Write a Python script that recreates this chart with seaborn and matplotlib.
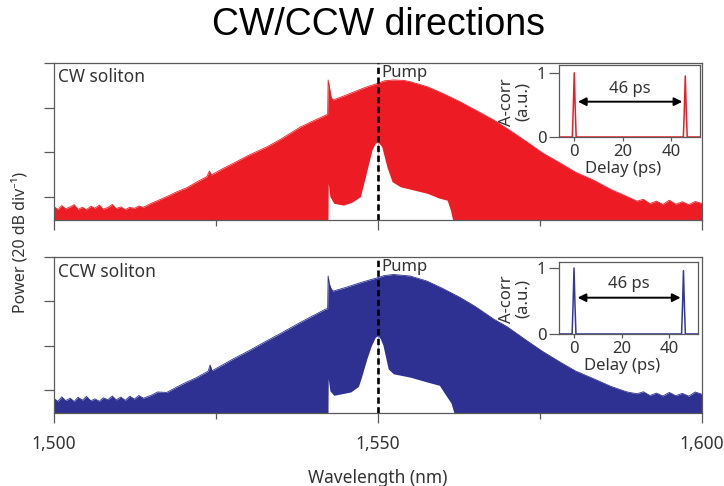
import matplotlib
matplotlib.use("Agg")
import matplotlib.pyplot as plt
import seaborn as sns

# ---------------- spectra (wavelength in nm, power in dB) ----------------
# CW soliton: peak envelope of the comb lines
cw_peak_wl = [1500.0, 1500.6, 1501.2, 1501.8, 1502.5, 1503.1, 1503.7, 1504.4, 1505.0, 1505.7,
              1506.3, 1507.0, 1507.6, 1508.3, 1509.0, 1509.6, 1510.3, 1511.0, 1511.7, 1512.4,
              1513.1, 1513.8, 1515.0, 1516.0, 1517.4, 1519.0, 1520.5, 1522.0, 1523.6, 1524.0,
              1524.3, 1526.0, 1527.7, 1530.0, 1532.9, 1535.0, 1538.0, 1540.0, 1541.9, 1542.25,
              1542.32, 1542.5, 1542.8, 1543.1, 1545.0, 1547.3, 1548.5, 1549.9, 1551.0, 1552.4,
              1554.0, 1555.0, 1557.6, 1560.0, 1562.7, 1565.0, 1567.9, 1570.0, 1573.0, 1575.5,
              1578.2, 1580.5, 1583.3, 1586.0, 1588.5, 1590.0, 1591.0, 1592.0, 1593.0, 1594.0,
              1595.0, 1596.0, 1597.0, 1598.0, 1599.0, 1600.0]
cw_peak_db = [-64.5, -65.8, -64.0, -65.5, -64.6, -63.6, -65.7, -64.8, -65.9, -64.3,
              -65.2, -63.8, -65.6, -64.9, -63.5, -65.4, -64.6, -65.8, -64.8, -65.3,
              -64.2, -64.8, -63.0, -61.8, -60.0, -57.8, -56.0, -53.5, -51.0, -48.5,
              -50.3, -47.5, -45.0, -41.5, -37.6, -34.2, -28.8, -26.0, -23.5, -23.0,
              -7.6, -10.5, -15.5, -16.6, -14.5, -11.8, -10.5, -9.2, -8.0, -7.6,
              -7.8, -8.4, -10.6, -13.6, -17.4, -21.0, -25.6, -29.5, -35.4, -40.5,
              -45.0, -49.0, -52.6, -56.8, -60.0, -62.0, -61.2, -63.2, -62.0, -63.5,
              -61.6, -63.4, -62.3, -63.6, -62.2, -63.0]
# CW soliton: background level between comb lines (raised around the pump)
cw_base_wl = [1500.0, 1542.3, 1542.34, 1542.6, 1543.2, 1544.7, 1546.0, 1547.3, 1548.0, 1548.5,
              1549.1, 1549.6, 1549.97, 1550.0, 1550.03, 1550.6, 1551.4, 1552.2, 1553.5, 1554.5,
              1557.6, 1559.5, 1560.7, 1561.2, 1561.6, 1600.0]
cw_base_db = [-71.0, -71.0, -54.0, -60.0, -63.0, -63.8, -62.5, -60.0, -52.0, -46.0,
              -39.0, -36.0, -35.4, -69.0, -35.4, -37.6, -46.6, -53.3, -55.6, -56.3,
              -58.5, -60.7, -61.6, -66.0, -71.0, -71.0]

# CCW soliton: peak envelope of the comb lines
ccw_peak_wl = [1500.0, 1500.6, 1501.2, 1501.8, 1502.5, 1503.1, 1503.7, 1504.4, 1505.0, 1505.7,
               1506.3, 1507.0, 1507.6, 1508.3, 1509.0, 1509.6, 1510.3, 1511.0, 1511.7, 1512.4,
               1513.1, 1513.8, 1515.0, 1516.0, 1517.4, 1519.0, 1520.5, 1522.0, 1523.8, 1524.1,
               1524.4, 1526.0, 1527.7, 1530.0, 1532.9, 1535.0, 1538.0, 1540.0, 1541.9, 1542.25,
               1542.32, 1542.5, 1542.8, 1543.1, 1545.0, 1547.3, 1549.9, 1551.0, 1552.4, 1555.0,
               1557.6, 1560.0, 1562.7, 1565.0, 1567.9, 1570.0, 1573.0, 1575.5, 1578.2, 1580.5,
               1583.3, 1586.0, 1588.5, 1590.0, 1591.0, 1592.0, 1593.0, 1594.0, 1595.0, 1596.0,
               1597.0, 1598.0, 1599.0, 1600.0]
ccw_peak_db = [-64.0, -65.2, -63.2, -64.9, -63.8, -65.3, -63.4, -64.7, -63.0, -65.0,
               -64.1, -65.2, -63.6, -64.5, -62.8, -64.6, -63.3, -64.8, -62.9, -64.2,
               -62.6, -63.8, -62.5, -61.0, -61.2, -58.7, -56.5, -54.5, -51.6, -48.8,
               -51.4, -48.8, -46.0, -42.5, -37.8, -34.5, -29.6, -26.5, -23.6, -23.3,
               -8.6, -12.0, -14.5, -15.4, -13.8, -11.6, -9.4, -8.4, -7.9, -8.6,
               -10.9, -14.2, -18.3, -22.3, -28.1, -31.6, -37.8, -42.8, -47.6, -51.5,
               -55.0, -58.5, -61.0, -61.8, -60.9, -62.6, -61.5, -62.8, -61.2, -62.7,
               -61.6, -62.9, -61.0, -62.0]
# CCW soliton: background level between comb lines
ccw_base_wl = [1500.0, 1542.3, 1542.34, 1542.6, 1543.2, 1545.8, 1547.0, 1547.5, 1548.3, 1549.0,
               1549.6, 1549.97, 1550.0, 1550.03, 1550.4, 1550.8, 1551.6, 1552.4, 1555.0, 1557.6,
               1559.5, 1560.5, 1561.3, 1561.8, 1600.0]
ccw_base_db = [-71.0, -71.0, -55.0, -60.5, -62.5, -61.0, -58.5, -54.0, -46.0, -40.0,
               -36.3, -35.6, -69.0, -35.6, -37.0, -40.0, -50.6, -52.8, -54.3, -56.5,
               -58.0, -62.5, -66.0, -71.0, -71.0]

# ---------------- autocorrelation traces (delay in ps) ----------------
acorr_delay = [-6.3, -0.8, -0.4, 0.0, 0.4, 0.8, 45.1, 45.5, 45.9, 46.3, 46.7, 52.0]
cw_acorr = [0.0, 0.0, 0.45, 1.0, 0.45, 0.0, 0.0, 0.42, 0.95, 0.42, 0.0, 0.0]
ccw_acorr = [0.0, 0.0, 0.45, 1.0, 0.45, 0.0, 0.0, 0.42, 0.96, 0.42, 0.0, 0.0]

pump_wl = 1550.0
spacing_ps = 46
panel_labels = ["CW soliton", "CCW soliton"]
x_ticks = [1500, 1550, 1600]
x_tick_labels = ["1,500", "1,550", "1,600"]
x_minor = [1525, 1575]
power_ticks = [-60, -40, -20, 0]

RED = "#ED1C24"
BLUE = "#2E3192"
TXT = "#333333"
SPINE = "#5a5a5a"

sns.set_theme(style="ticks")
plt.rcParams["font.family"] = ["Noto Sans", "DejaVu Sans"]
plt.rcParams["axes.edgecolor"] = SPINE
plt.rcParams["xtick.color"] = SPINE
plt.rcParams["ytick.color"] = SPINE
plt.rcParams["xtick.labelcolor"] = TXT
plt.rcParams["ytick.labelcolor"] = TXT

fig = plt.figure(figsize=(7.24, 4.86), dpi=100, facecolor="white")

main_rects = [[0.0746, 0.5473, 0.8946, 0.323], [0.0746, 0.1502, 0.8946, 0.321]]
inset_rects = [[0.7721, 0.7181, 0.1948, 0.148], [0.7721, 0.3128, 0.1920, 0.148]]
spectra = [
    (cw_peak_wl, cw_peak_db, cw_base_wl, cw_base_db, cw_acorr, RED, RED, -4.5, -6.1, 1.12),
    (ccw_peak_wl, ccw_peak_db, ccw_base_wl, ccw_base_db, ccw_acorr, BLUE, "#34389a", -4.3, -7.0, 1.09),
]

for i, (pk_wl, pk_db, bs_wl, bs_db, acorr, col, icol, pump_y, lab_y, ytop) in enumerate(spectra):
    ax = fig.add_axes(main_rects[i])
    ax.set_facecolor("white")
    ymin = -70.5
    # comb lines fill everything from the bottom up to the peak envelope
    ax.fill_between(pk_wl, pk_db, -71.0, color=col, lw=0, zorder=1)
    sns.lineplot(x=pk_wl, y=pk_db, ax=ax, color=col, lw=0.6, estimator=None,
                 sort=False, zorder=1.1)
    # below the background level nothing is recorded
    ax.fill_between(bs_wl, bs_db, -71.0, color="white", lw=0, zorder=1.2)
    ax.axvline(pump_wl, color="black", lw=1.9, ls=(0, (2.4, 1.3)), zorder=3)

    ax.set_xlim(1500, 1600)
    ax.set_ylim(ymin, 0)
    ax.set_xticks(x_ticks)
    ax.set_xticks(x_minor, minor=True)
    ax.set_yticks(power_ticks)
    ax.set_yticklabels([])
    if i == 1:
        ax.set_xticklabels(x_tick_labels, fontsize=12.5)
        ax.set_xlabel("Wavelength (nm)", fontsize=12.5, color=TXT, labelpad=11)
    else:
        ax.set_xticklabels([])
    ax.tick_params(axis="x", which="major", direction="out", length=7, width=0.9, pad=9)
    ax.tick_params(axis="x", which="minor", direction="out", length=4, width=0.9)
    ax.tick_params(axis="y", direction="out", length=7, width=0.9)
    for s in ax.spines.values():
        s.set_linewidth(0.9)
        s.set_color(SPINE)

    ax.text(1500.6, lab_y, panel_labels[i], fontsize=12.5, color=TXT, va="center", ha="left")
    ax.text(pump_wl + 0.55, pump_y, "Pump", fontsize=12, color=TXT, va="center", ha="left")

    # autocorrelation inset
    ai = fig.add_axes(inset_rects[i])
    ai.set_facecolor("white")
    ai.set_zorder(5)
    sns.lineplot(x=acorr_delay, y=acorr, ax=ai, color=icol, lw=1.1, estimator=None, sort=False)
    ai.set_xlim(-6.3, 52.0)
    ai.set_ylim(0, ytop)
    ai.set_xticks([0, 20, 40])
    ai.set_yticks([0, 1])
    ai.tick_params(axis="x", direction="out", length=3, width=0.9, pad=2, labelsize=12)
    ai.tick_params(axis="y", direction="out", length=7, width=0.9, pad=2, labelsize=12)
    for s in ai.spines.values():
        s.set_linewidth(0.9)
        s.set_color(SPINE)
    ai.set_xlabel("Delay (ps)", fontsize=12, color=TXT)
    ai.xaxis.set_label_coords(0.454, -0.33)
    ai.set_ylabel("A-corr\n(a.u.)", fontsize=12, color=TXT, linespacing=1.0)
    ai.yaxis.set_label_coords(-0.2, 0.49)
    ai.annotate("", xy=(44.7, 0.55), xytext=(1.5, 0.55),
                arrowprops=dict(arrowstyle="<|-|>", color="black", lw=1.4,
                                mutation_scale=12, shrinkA=0, shrinkB=0))
    ai.text(23.0, 0.75, f"{spacing_ps} ps", fontsize=12, color=TXT, ha="center", va="center")

fig.text(0.028, 0.502, "Power (20 dB div\u207b\u00b9)", rotation=90, fontsize=11.5,
         color=TXT, ha="center", va="center")
fig.text(0.523, 0.9486, "CW/CCW directions", fontsize=27, family="Liberation Sans",
         color="black", ha="center", va="center")

fig.savefig("out.png", dpi=100, facecolor="white")
